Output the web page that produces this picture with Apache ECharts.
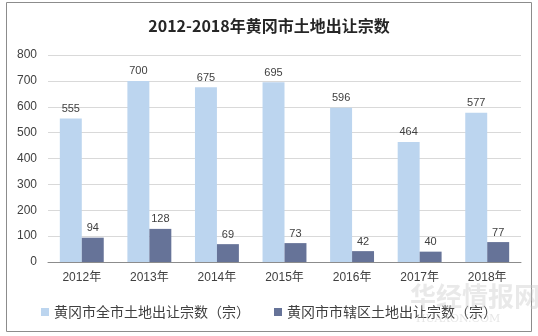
<!DOCTYPE html>
<html><head><meta charset="utf-8">
<script src="https://cdn.jsdelivr.net/npm/echarts@6/dist/echarts.min.js"></script>
<style>html,body{margin:0;padding:0;background:#fff}#c{width:538px;height:336px}</style>
</head><body><div id="c"></div>
<script>
const categories = ['2012年','2013年','2014年','2015年','2016年','2017年','2018年'];
const cityTotal = [555, 700, 675, 695, 596, 464, 577];
const districtTotal = [94, 128, 69, 73, 42, 40, 77];
const seriesNames = ['黄冈市全市土地出让宗数（宗）', '黄冈市市辖区土地出让宗数（宗）'];
const titleText = '2012-2018年黄冈市土地出让宗数';

const chart = echarts.init(document.getElementById('c'));
const font = 'Arial, "Noto Sans CJK SC", sans-serif';
chart.setOption({
  animation: false,
  title: {
    text: titleText, left: 'center', top: 13,
    textStyle: {fontFamily: '"Noto Sans CJK SC", sans-serif', fontSize: 16, fontWeight: 'bold', color: '#262626'}
  },
  graphic: [
    {type: 'rect', shape: {x: 6.5, y: 2.5, width: 525, height: 329}, style: {fill: 'none', stroke: '#8c8c8c', lineWidth: 1}, z: -1},
    {type: 'text', left: 410, top: 283, style: {text: '华经情报网', fill: 'rgba(200,200,200,0.4)', font: 'bold 26px "Noto Sans CJK SC"'}, z: 10},
    {type: 'text', left: 416, top: 314, style: {text: 'HUAXON.COM', fill: 'rgba(200,200,200,0.45)', font: '11px "DejaVu Serif"'}, z: 10}
  ],
  legend: {
    bottom: 12, left: 'center', itemWidth: 8, itemHeight: 8, itemGap: 24, icon: 'rect',
    textStyle: {fontFamily: '"Noto Sans CJK SC", sans-serif', fontSize: 14, color: '#404040'},
    data: seriesNames
  },
  grid: {left: 48, right: 17, top: 55, bottom: 74},
  xAxis: {
    type: 'category', data: categories,
    axisLine: {lineStyle: {color: '#8c8c8c'}},
    axisTick: {show: false},
    axisLabel: {fontFamily: font, fontSize: 12, color: '#404040', margin: 10}
  },
  yAxis: {
    type: 'value', min: 0, max: 800, interval: 100,
    axisLine: {show: false}, axisTick: {show: false},
    splitLine: {lineStyle: {color: '#d9d9d9'}},
    axisLabel: {fontFamily: font, fontSize: 12, color: '#404040', margin: 11}
  },
  series: [
    {name: seriesNames[0], type: 'bar', data: cityTotal, barGap: '0%', barCategoryGap: '35%',
     itemStyle: {color: '#bcd5ef'},
     label: {show: true, position: 'top', fontFamily: font, fontSize: 11, color: '#404040', distance: 4}},
    {name: seriesNames[1], type: 'bar', data: districtTotal,
     itemStyle: {color: '#667398'},
     label: {show: true, position: 'top', fontFamily: font, fontSize: 11, color: '#404040', distance: 4}}
  ]
});
</script></body></html>
